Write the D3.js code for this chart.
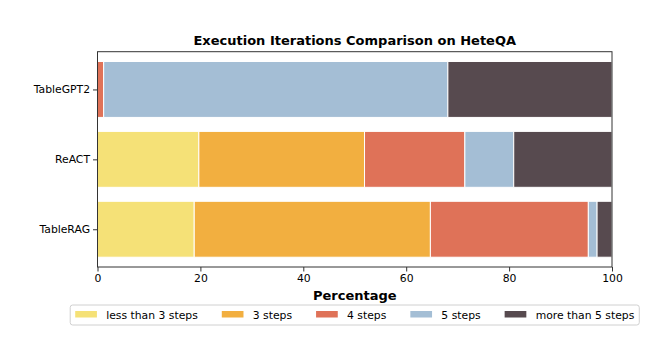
<!DOCTYPE html>
<html><head><meta charset="utf-8">
<script src="https://cdn.jsdelivr.net/npm/d3@7"></script>
<style>body{margin:0;background:#fff}svg{display:block}text{font-family:"DejaVu Sans",sans-serif;fill:#000}</style>
</head><body><svg id="c" width="652" height="344"></svg>
<script>
const categories = ["TableGPT2", "ReACT", "TableRAG"];
const seriesNames = ["less than 3 steps", "3 steps", "4 steps", "5 steps", "more than 5 steps"];
const colors = ["#F5E177", "#F2AF40", "#DF7258", "#A4BED5", "#574A4F"];
const lessThan3 = [0, 19.7, 18.8];
const steps3 = [0, 32.2, 45.9];
const steps4 = [1.2, 19.5, 30.7];
const steps5 = [66.9, 9.5, 1.7];
const moreThan5 = [31.9, 19.1, 2.9];
const xTicks = [0, 20, 40, 60, 80, 100];
const title = "Execution Iterations Comparison on HeteQA";
const xLabel = "Percentage";

const series = [lessThan3, steps3, steps4, steps5, moreThan5];
const svg = d3.select("#c");
const L = 97.5, R = 612, T = 51.7, B = 267;
const FS = "10.8px";
const x = d3.scaleLinear().domain([0, 100]).range([L, R]);
const y = d3.scaleLinear().domain([-0.54, 2.54]).range([T, B]);
const bh = 0.8;

const rows = categories.map((c, i) => {
  let acc = 0;
  return series.map((s, k) => { const x0 = acc; acc += s[i]; return {cat: i, k, x0, x1: acc}; });
}).flat();

svg.append("g").selectAll("rect").data(rows.filter(d => d.x1 > d.x0)).join("rect")
  .attr("x", d => x(d.x0)).attr("width", d => x(d.x1) - x(d.x0))
  .attr("y", d => y(d.cat - bh/2)).attr("height", d => y(d.cat + bh/2) - y(d.cat - bh/2))
  .attr("fill", d => colors[d.k]).attr("stroke", "#fff").attr("stroke-width", 1);

svg.append("rect").attr("x", L).attr("y", T).attr("width", R - L).attr("height", B - T)
  .attr("fill", "none").attr("stroke", "#333").attr("stroke-width", 1);

const xa = svg.append("g").attr("transform", `translate(0,${B})`)
  .call(d3.axisBottom(x).tickValues(xTicks).tickSize(4.5).tickPadding(3).tickFormat(d3.format("d")));
xa.select(".domain").remove();
xa.selectAll("line").attr("stroke", "#333");
xa.selectAll("text").attr("font-size", FS).attr("font-family", "DejaVu Sans").attr("fill", "#000");

const ya = svg.append("g").attr("transform", `translate(${L},0)`)
  .call(d3.axisLeft(y).tickValues(categories.map((c, i) => i)).tickSize(4.5).tickPadding(3).tickFormat(i => categories[i]));
ya.select(".domain").remove();
ya.selectAll("line").attr("stroke", "#333");
ya.selectAll("text").attr("font-size", FS).attr("font-family", "DejaVu Sans").attr("fill", "#000");

svg.append("text").attr("x", (L + R) / 2).attr("y", 45).attr("text-anchor", "middle")
  .attr("font-size", "13px").attr("font-weight", "bold").text(title);
svg.append("text").attr("x", (L + R) / 2).attr("y", 300).attr("text-anchor", "middle")
  .attr("font-size", "13px").attr("font-weight", "bold").text(xLabel);

const lg = svg.append("g");
const frame = lg.append("rect").attr("y", 305).attr("height", 20).attr("rx", 2.5)
  .attr("fill", "#fff").attr("stroke", "#d0d0d0").attr("stroke-width", 1);
let cx = 0;
const GAP = 24;
seriesNames.forEach((n, k) => {
  const g = lg.append("g").attr("class", "item").attr("data-x", cx);
  g.append("rect").attr("x", 0).attr("y", 311).attr("width", 21.7).attr("height", 6.5).attr("fill", colors[k]);
  const t = g.append("text").attr("x", 31).attr("y", 318.8).attr("font-size", FS).text(n);
  cx += 31 + t.node().getComputedTextLength() + GAP;
});
const totalW = cx - GAP;
const lx = (L + R) / 2 - totalW / 2;
lg.selectAll("g.item").attr("transform", function() { return `translate(${lx + +this.getAttribute("data-x")},0)`; });
frame.attr("x", lx - 5).attr("width", totalW + 10);
</script></body></html>
